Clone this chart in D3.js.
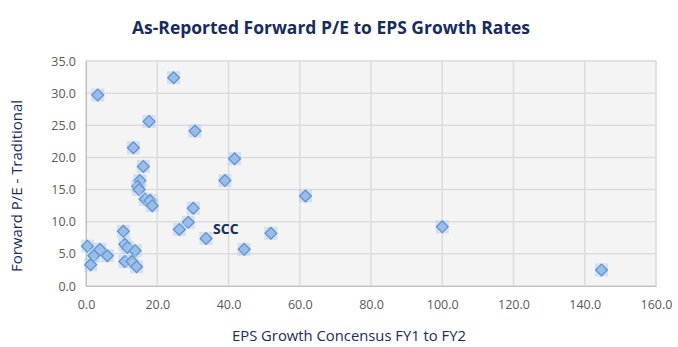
<!DOCTYPE html>
<html>
<head>
<meta charset="utf-8">
<script src="https://cdn.jsdelivr.net/npm/d3@7"></script>
<style>
  body { margin: 0; background: #fff; }
  text { font-family: "Open Sans", "Noto Sans", sans-serif; }
</style>
</head>
<body>
<svg id="chart"></svg>
<script>
// EPS growth (x) vs forward P/E (y)
const growth = [24.6, 3.3, 17.7, 30.6, 13.3, 41.7, 16.1, 15.1, 39.0, 14.5, 14.9,
  16.6, 18.0, 18.6, 30.1, 28.7, 26.2, 33.7, 10.5, 0.4, 3.9, 2.2, 6.0, 1.3,
  10.9, 11.6, 13.8, 10.9, 12.9, 14.2, 61.6, 51.9, 44.4, 100.0, 144.7];
const pe = [32.4, 29.7, 25.6, 24.1, 21.5, 19.8, 18.6, 16.4, 16.4, 15.5, 15.0,
  13.5, 13.3, 12.5, 12.1, 9.9, 8.8, 7.4, 8.5, 6.2, 5.7, 4.7, 4.7, 3.3,
  6.5, 6.0, 5.5, 3.8, 3.8, 3.0, 14.0, 8.2, 5.7, 9.2, 2.5];
const labels = {17: "SCC"};

const xTicks = [0, 20, 40, 60, 80, 100, 120, 140, 160];
const yTicks = [0, 5, 10, 15, 20, 25, 30, 35];

const width = 678, height = 347;
const margin = {top: 61, right: 22, bottom: 61, left: 86};

const svg = d3.select("svg#chart")
    .attr("width", width)
    .attr("height", height);

const x = d3.scaleLinear().domain([0, 160]).range([margin.left, width - margin.right]);
const y = d3.scaleLinear().domain([0, 35]).range([height - margin.bottom, margin.top]);

svg.append("text")
    .attr("x", 331)
    .attr("y", 34)
    .attr("text-anchor", "middle")
    .attr("font-size", 17)
    .attr("font-weight", "bold")
    .attr("fill", "#172c5e")
    .attr("textLength", 398)
    .attr("lengthAdjust", "spacingAndGlyphs")
    .text("As-Reported Forward P/E to EPS Growth Rates");

// plot background
svg.append("rect")
    .attr("x", x(0))
    .attr("y", y(35))
    .attr("width", x(160) - x(0))
    .attr("height", y(0) - y(35))
    .attr("fill", "#f4f4f4")
    .attr("stroke", "#dcdcdc");

const grid = svg.append("g")
    .attr("stroke", "#dcdcdc")
    .attr("stroke-width", 1.5);

grid.selectAll("line.v")
  .data(xTicks)
  .join("line")
    .attr("class", "v")
    .attr("x1", d => x(d)).attr("x2", d => x(d))
    .attr("y1", y(0)).attr("y2", y(35));

grid.selectAll("line.h")
  .data(yTicks)
  .join("line")
    .attr("class", "h")
    .attr("x1", x(0)).attr("x2", x(160))
    .attr("y1", d => y(d)).attr("y2", d => y(d));

const xAxis = svg.append("g")
    .attr("transform", `translate(0,${y(0)})`)
    .call(d3.axisBottom(x).tickValues(xTicks).tickFormat(d3.format(".1f")).tickSize(0).tickPadding(14));
const yAxis = svg.append("g")
    .attr("transform", `translate(${x(0)},0)`)
    .call(d3.axisLeft(y).tickValues(yTicks).tickFormat(d3.format(".1f")).tickSize(0).tickPadding(10));

[xAxis, yAxis].forEach(g => {
  g.select(".domain").attr("stroke", "#bfbfbf");
  g.selectAll("text").attr("fill", "#595959").attr("font-size", 12.5)
      .attr("font-family", "'Open Sans', sans-serif");
});

svg.append("text")
    .attr("x", 349)
    .attr("y", 341)
    .attr("text-anchor", "middle")
    .attr("font-size", 14.5)
    .attr("fill", "#172c5e")
    .attr("textLength", 234)
    .attr("lengthAdjust", "spacingAndGlyphs")
    .text("EPS Growth Concensus FY1 to FY2");

svg.append("text")
    .attr("transform", "translate(22,186) rotate(-90)")
    .attr("text-anchor", "middle")
    .attr("font-size", 14.5)
    .attr("fill", "#172c5e")
    .attr("textLength", 172)
    .attr("lengthAdjust", "spacingAndGlyphs")
    .text("Forward P/E - Traditional");

const points = growth.map((g, i) => ({x: g, y: pe[i], label: labels[i]}));

const marks = svg.append("g")
  .selectAll("g")
  .data(points)
  .join("g")
    .attr("transform", d => `translate(${x(d.x)},${y(d.y)})`);

marks.append("rect")
    .attr("x", -6.5).attr("y", -6.5)
    .attr("width", 13).attr("height", 13)
    .attr("fill", "#afcbec")
    .attr("opacity", 0.5);

marks.append("path")
    .attr("d", d3.symbol(d3.symbolSquare, 70))
    .attr("transform", "rotate(45)")
    .attr("fill", "#99bde7")
    .attr("stroke", "#5b8fd3")
    .attr("stroke-width", 1.2);

svg.append("g")
  .selectAll("text")
  .data(points.filter(d => d.label))
  .join("text")
    .attr("x", d => x(d.x) + 7)
    .attr("y", d => y(d.y) - 4)
    .attr("font-size", 14)
    .attr("font-weight", "bold")
    .attr("fill", "#172c5e")
    .text(d => d.label);
</script>
</body>
</html>
